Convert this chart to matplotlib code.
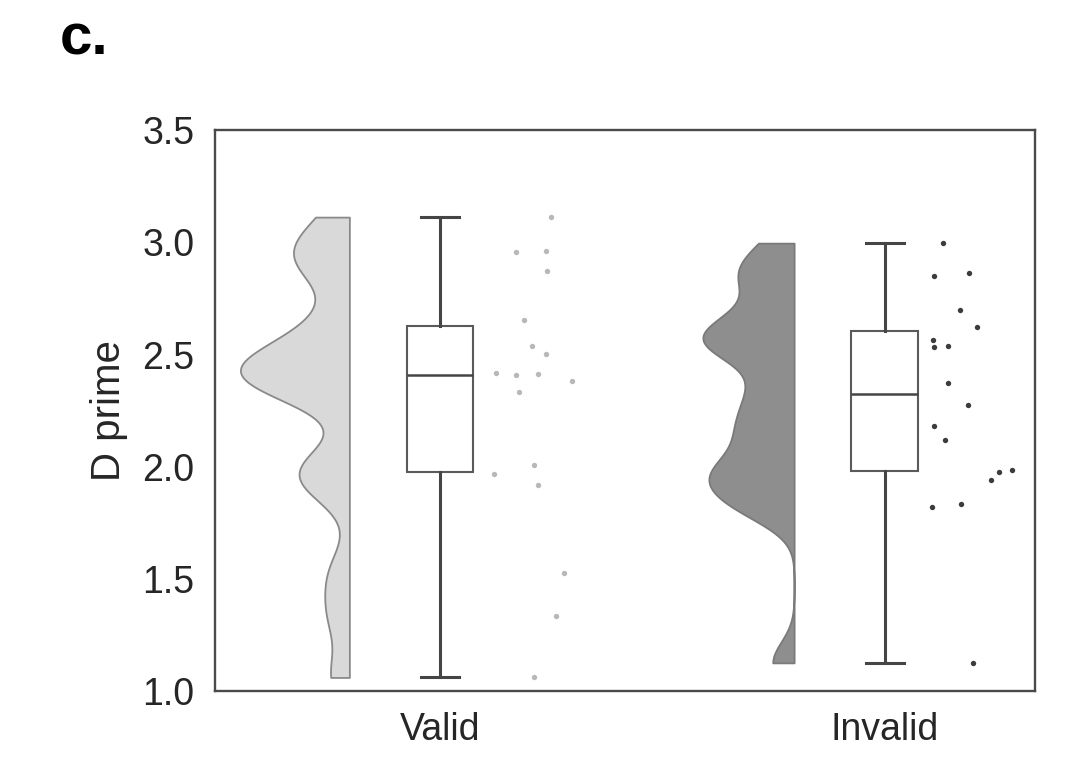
import numpy as np
import matplotlib
matplotlib.use("Agg")
import matplotlib.pyplot as plt

plt.rcParams['font.family'] = ['Liberation Sans', 'DejaVu Sans']

# D prime scores per condition
categories = ["Valid", "Invalid"]
valid_scores = [3.113, 2.964, 2.957, 2.871, 2.656, 2.537, 2.501, 2.418, 2.412,
                2.409, 2.383, 2.333, 2.010, 1.966, 1.920, 1.527, 1.333, 1.061]
invalid_scores = [2.997, 2.864, 2.850, 2.700, 2.621, 2.565, 2.540, 2.536, 2.372,
                  2.275, 2.180, 2.121, 1.985, 1.978, 1.940, 1.832, 1.823, 1.126]
yticks = [1.0, 1.5, 2.0, 2.5, 3.0, 3.5]

# horizontal offsets of the rain points (strip jitter)
valid_jitter = [0.249, 0.238, 0.171, 0.241, 0.189, 0.207, 0.238, 0.126, 0.220,
                0.171, 0.296, 0.178, 0.212, 0.121, 0.220, 0.279, 0.261, 0.212]
invalid_jitter = [0.130, 0.189, 0.111, 0.170, 0.208, 0.109, 0.142, 0.111, 0.142,
                  0.188, 0.111, 0.135, 0.287, 0.256, 0.238, 0.171, 0.105, 0.198]

groups = [np.array(valid_scores), np.array(invalid_scores)]
jitters = [np.array(valid_jitter), np.array(invalid_jitter)]
violin_face = ["#d9d9d9", "#8e8e8e"]
violin_edge = ["#8a8a8a", "#7a7a7a"]
point_color = ["#b8b8b8", "#3c3c3c"]

fig = plt.figure(figsize=(10.70, 7.62), dpi=100)
ax = fig.add_axes([0.201, 0.093, 0.766, 0.736])

bw_factor = 0.2
viol_offset = -0.204
viol_half_width = 0.245


def kde(values, grid, factor):
    bw = factor * values.std(ddof=1)
    z = (grid[:, None] - values[None, :]) / bw
    return np.exp(-0.5 * z ** 2).sum(axis=1) / (len(values) * bw * np.sqrt(2 * np.pi))


grids, dens = [], []
for vals in groups:
    g = np.linspace(vals.min(), vals.max(), 400)
    grids.append(g)
    dens.append(kde(vals, g, bw_factor))
scale = viol_half_width / max(d.max() for d in dens)

for i, (g, d) in enumerate(zip(grids, dens)):
    edge_x = i + viol_offset
    ax.fill_betweenx(g, edge_x - d * scale, edge_x, facecolor=violin_face[i],
                     edgecolor=violin_edge[i], linewidth=1.3, zorder=1)

for i, (vals, jit) in enumerate(zip(groups, jitters)):
    ax.scatter(i + jit, vals, s=15, color=point_color[i], linewidths=0, zorder=2)

ax.boxplot(groups, positions=[0, 1], widths=0.15, whis=1.5, showfliers=False,
           patch_artist=True, capwidths=0.085,
           boxprops=dict(facecolor="white", edgecolor="#5a5a5a", linewidth=1.5),
           medianprops=dict(color="#454545", linewidth=1.8),
           whiskerprops=dict(color="#454545", linewidth=2.2),
           capprops=dict(color="#454545", linewidth=2.2),
           zorder=3)

ax.set_xlim(-0.506, 1.337)
ax.set_ylim(1.0, 3.5)
ax.set_yticks(yticks)
ax.set_yticklabels([f"{t:.1f}" for t in yticks])
ax.set_xticks([0, 1])
ax.set_xticklabels(categories)
ax.tick_params(axis="both", length=0, labelsize=27, colors="#262626", pad=15)
ax.set_ylabel("D prime", fontsize=29, color="#262626", labelpad=10)
for sp in ax.spines.values():
    sp.set_color("#4a4a4a")
    sp.set_linewidth(1.7)

fig.text(0.056, 0.928, "c.", fontsize=42, fontweight="bold", color="black")

fig.savefig("out.png", dpi=100)
